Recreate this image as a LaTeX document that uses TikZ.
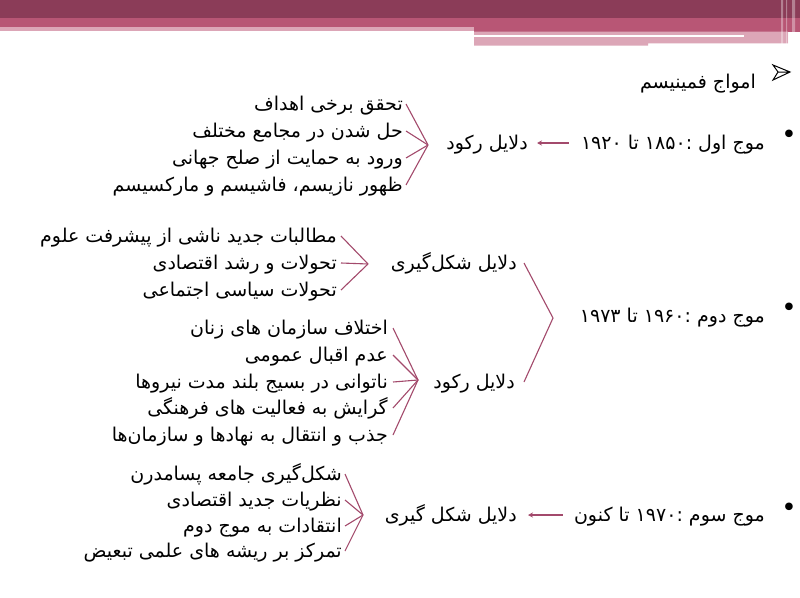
\documentclass[tikz,border=0pt]{standalone}
\usepackage{fontspec}
\usetikzlibrary{arrows.meta}
\newfontfamily\fa[Script=Arabic]{DejaVu Sans}
\TeXXeTstate=1
\definecolor{barDark}{RGB}{139,60,88}
\definecolor{barMid}{RGB}{184,86,117}
\definecolor{barLight}{RGB}{220,166,183}
\definecolor{linkred}{RGB}{163,74,108}
\newcommand{\fatext}[1]{\beginR #1\endR}

\begin{document}
\begin{tikzpicture}[x=1pt,y=-1pt,
    txt/.style={inner sep=0pt,font=\fa\fontsize{19}{22}\selectfont,text height=16pt,text depth=4pt},
    item/.style={txt,anchor=east},
    dot/.style={inner sep=0pt,font=\fa\fontsize{26}{26}\selectfont},
    link/.style={draw=linkred,line width=1.1pt}]
        \useasboundingbox (0,0) rectangle (800,597);
        \fill[white] (0,0) rectangle (800,597);
        % top bar
        \fill[barDark] (0,0) rectangle (800,17.5);
        \fill[barMid] (0,17.5) rectangle (800,26.7);
        \fill[barLight] (0,26.7) rectangle (474,30.5);
        \fill[barMid] (474,26.7) rectangle (800,31.7);
        \fill[barLight] (474,31.7) rectangle (648,45.5) (648,31.7) rectangle (788,43.3);
        \fill[white] (474,35) rectangle (744,37.3);
        \fill[white,opacity=.35] (781,0) rectangle (783,44) (786,0) rectangle (787,44) (792,0) rectangle (795,44);
        \fill[white,opacity=.6] (788,32) rectangle (800,45);
        %
        \coordinate (tick) at (781,72);
        \draw[line width=1pt,line join=miter] (773,65) -- (790,72) -- (773,80) -- (778,72) -- cycle (778,72) -- (790,72);
        \node[item] (title) at (756,82) {\fatext{امواج فمینیسم}};
        %
        \node[dot] (b1) at (789,137) {•};
        \node[item] (w1) at (765,143) {\fatext{موج اول :۱۸۵۰ تا ۱۹۲۰}};
        \node[item] (r1) at (528,143) {\fatext{دلایل رکود}};
        \coordinate (v1) at (428,145);
        \node[item] (a1) at (403,104) {\fatext{تحقق برخی اهداف}};
        \node[item] (a2) at (403,131) {\fatext{حل شدن در مجامع مختلف}};
        \node[item] (a3) at (403,158) {\fatext{ورود به حمایت از صلح جهانی}};
        \node[item] (a4) at (403,185) {\fatext{ظهور نازیسم، فاشیسم و مارکسیسم}};
        %
        \node[dot] (b2) at (789,310) {•};
        \node[item] (w2) at (765,316) {\fatext{موج دوم :۱۹۶۰ تا ۱۹۷۳}};
        \coordinate (v2) at (553,318);
        \node[item] (f2) at (517,263) {\fatext{دلایل شکل‌گیری}};
        \node[item] (r2) at (515,382) {\fatext{دلایل رکود}};
        \coordinate (v2a) at (368,264);
        \node[item] (c1) at (337,236) {\fatext{مطالبات جدید ناشی از پیشرفت علوم}};
        \node[item] (c2) at (337,263) {\fatext{تحولات و رشد اقتصادی}};
        \node[item] (c3) at (337,290) {\fatext{تحولات سیاسی اجتماعی}};
        \coordinate (v2b) at (418,380);
        \node[item] (d1) at (388,328) {\fatext{اختلاف سازمان های زنان}};
        \node[item] (d2) at (388,355) {\fatext{عدم اقبال عمومی}};
        \node[item] (d3) at (388,382) {\fatext{ناتوانی در بسیج بلند مدت نیروها}};
        \node[item] (d4) at (388,408) {\fatext{گرایش به فعالیت های فرهنگی}};
        \node[item] (d5) at (388,435) {\fatext{جذب و انتقال به نهادها و سازمان‌ها}};
        %
        \node[dot] (b3) at (789,510) {•};
        \node[item] (w3) at (765,515) {\fatext{موج سوم :۱۹۷۰ تا کنون}};
        \node[item] (f3) at (517,515) {\fatext{دلایل شکل گیری}};
        \coordinate (v3) at (363,515);
        \node[item] (e1) at (342,474) {\fatext{شکل‌گیری جامعه پسامدرن}};
        \node[item] (e2) at (342,500) {\fatext{نظریات جدید اقتصادی}};
        \node[item] (e3) at (342,526) {\fatext{انتقادات به موج دوم}};
        \node[item] (e4) at (342,551) {\fatext{تمرکز بر ریشه های علمی تبعیض}};
        %
        \draw[link,-{Stealth[length=5pt,width=5pt]},shorten <=12pt,shorten >=9pt] (w1.west) -- (r1.east);
        \draw[link,-{Stealth[length=5pt,width=5pt]},shorten <=11pt,shorten >=11pt] (w3.west) -- (f3.east);
        \draw[link] ([xshift=7pt]f2.east) -- (v2) -- ([xshift=9pt]r2.east);
        \foreach \n in {a1,a2,a3,a4} \draw[link] ([xshift=3pt]\n.east) -- (v1);
        \foreach \n in {c1,c2,c3} \draw[link] ([xshift=4pt]\n.east) -- (v2a);
        \foreach \n in {d1,d2,d3,d4,d5} \draw[link] ([xshift=5pt]\n.east) -- (v2b);
        \foreach \n in {e1,e2,e3,e4} \draw[link] ([xshift=3pt]\n.east) -- (v3);
\end{tikzpicture}
\end{document}
